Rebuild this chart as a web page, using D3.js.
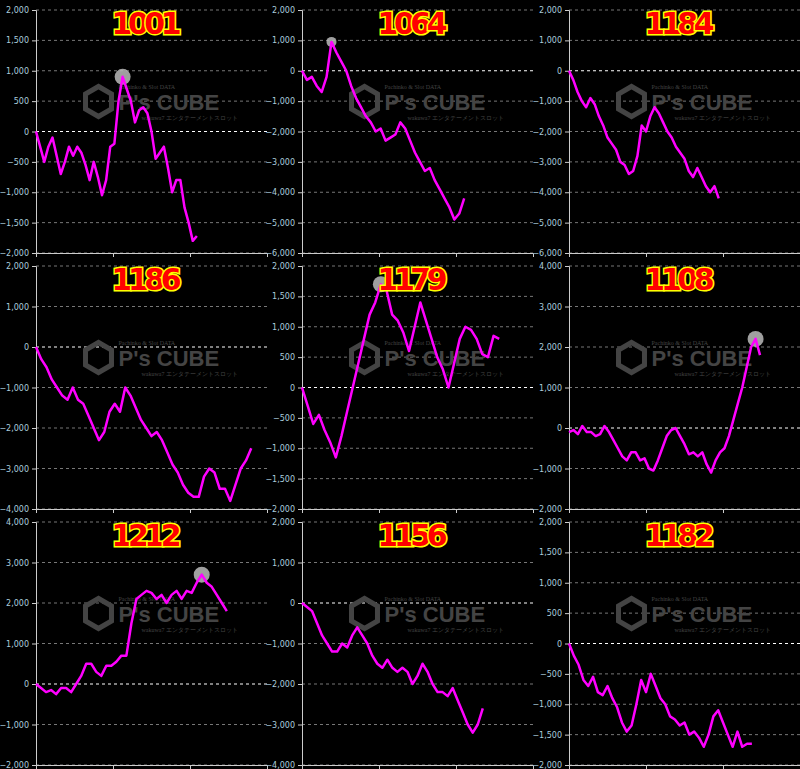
<!DOCTYPE html>
<html><head><meta charset="utf-8">
<script src="https://cdn.jsdelivr.net/npm/d3@7"></script>
<style>body{margin:0;background:#000}svg{display:block}</style>
</head><body><svg width="800" height="769"></svg>
<script>
const W = 800, H = 769;

// machine numbers (panel titles)
const titles = ['1001','1064','1184','1186','1179','1108','1212','1156','1182'];
// y axis ranges [max, min]
const yRanges = [[2000,-2000],[2000,-6000],[2000,-6000],[2000,-4000],[2000,-2000],[4000,-2000],[4000,-2000],[2000,-4000],[2000,-2000]];
const yTicks = [500,1000,1000,1000,500,1000,1000,1000,500];
// length of the x axis in steps, per panel
const xMax = [56,47,54,44,41,52,46,46,48];

const s1001 = [0,-250,-500,-250,-100,-400,-700,-500,-250,-400,-250,-350,-550,-800,-500,-750,-1050,-800,-250,-200,500,900,700,500,150,350,400,300,0,-450,-350,-250,-600,-1000,-800,-800,-1250,-1500,-1800,-1720];
const s1064 = [0,-300,-200,-500,-700,-200,950,600,300,0,-500,-900,-1200,-1500,-1700,-2000,-1900,-2300,-2200,-2100,-1700,-1900,-2300,-2700,-3000,-3300,-3200,-3600,-3900,-4200,-4500,-4900,-4700,-4200];
const s1184 = [0,-300,-700,-1000,-1200,-900,-1100,-1500,-1800,-2200,-2400,-2600,-3000,-3100,-3400,-3300,-2800,-1800,-2000,-1500,-1200,-1400,-1700,-2000,-2200,-2500,-2700,-2900,-3300,-3500,-3200,-3500,-3800,-4000,-3800,-4200];
const s1186 = [0,-300,-500,-800,-1000,-1200,-1300,-1000,-1300,-1400,-1700,-2000,-2300,-2100,-1600,-1400,-1600,-1000,-1200,-1500,-1800,-2000,-2200,-2100,-2300,-2600,-2900,-3100,-3400,-3600,-3700,-3700,-3200,-3000,-3100,-3500,-3500,-3800,-3400,-3000,-2800,-2500];
const s1179 = [0,-300,-600,-450,-700,-900,-1150,-800,-400,0,400,800,1200,1400,1700,1600,1200,1100,900,600,1000,1400,1100,800,500,300,0,400,800,1000,950,800,550,500,850,800];
const s1108 = [-100,-50,-150,50,-100,-100,-200,-150,50,-100,-300,-500,-700,-800,-600,-600,-800,-750,-1000,-1050,-800,-500,-200,-50,0,-200,-400,-650,-600,-700,-600,-900,-1100,-800,-600,-500,-200,200,600,1000,1500,2000,2200,1800];
const s1212 = [0,-100,-200,-150,-250,-100,-100,-200,0,200,500,500,300,200,450,450,550,700,700,1500,2100,2200,2300,2250,2100,2200,2000,2200,2300,2100,2300,2250,2500,2700,2500,2400,2200,2000,1800];
const s1156 = [0,-100,-200,-500,-800,-1000,-1200,-1200,-1000,-1100,-800,-600,-800,-1000,-1300,-1500,-1600,-1400,-1600,-1700,-1600,-1700,-2000,-1800,-1500,-1700,-2000,-2200,-2200,-2300,-2100,-2400,-2700,-3000,-3200,-3000,-2600];
const s1182 = [0,-200,-350,-600,-700,-550,-800,-850,-700,-900,-1050,-1300,-1450,-1350,-1000,-600,-800,-500,-700,-900,-1000,-1200,-1250,-1350,-1300,-1500,-1450,-1550,-1700,-1500,-1200,-1100,-1300,-1500,-1700,-1450,-1700,-1650,-1650];
const series = [s1001,s1064,s1184,s1186,s1179,s1108,s1212,s1156,s1182];

const svg = d3.select('svg');
svg.append('rect').attr('width', W).attr('height', H).attr('fill', '#000');

const colX = [0, 266, 533], rowY = [0, 256, 512];
const fmt = d3.format(',');

series.forEach((data, i) => {
  const ox = colX[i % 3], oy = rowY[Math.floor(i / 3)];
  const left = ox + 36, right = ox + 267, top = oy + 10, bottom = oy + 253;
  const g = svg.append('g');

  const x = d3.scaleLinear().domain([0, xMax[i]]).range([left, right]);
  const y = d3.scaleLinear().domain([yRanges[i][1], yRanges[i][0]]).range([bottom, top]);
  const ticks = d3.range(yRanges[i][1], yRanges[i][0] + 1, yTicks[i]);

  // gridlines
  g.selectAll('line.grid').data(ticks).join('line')
    .attr('x1', left).attr('x2', right)
    .attr('y1', d => y(d)).attr('y2', d => y(d))
    .attr('stroke', d => d === 0 ? '#fff' : '#777')
    .attr('stroke-width', 1)
    .attr('stroke-dasharray', '3,3');

  // y axis
  const ya = g.append('g').attr('transform', `translate(${left},0)`)
    .call(d3.axisLeft(y).tickValues(ticks).tickFormat(fmt).tickSize(4));
  ya.select('.domain').attr('stroke', '#ccc');
  ya.selectAll('line').attr('stroke', '#ccc');
  ya.selectAll('text').attr('fill', '#acd').style('font-family', 'DejaVu Sans, sans-serif').style('font-size', '8px');

  // x axis (no labels)
  const xa = g.append('g').attr('transform', `translate(0,${bottom})`)
    .call(d3.axisBottom(x).tickValues([0, xMax[i] / 3, xMax[i] * 2 / 3]).tickFormat('').tickSize(4));
  xa.select('.domain').attr('stroke', '#ccc');
  xa.selectAll('line').attr('stroke', '#ccc');

  // watermark
  const cx = (left + right) / 2 - 5, cy = (top + bottom) / 2 - 30;
  g.append('path')
    .attr('d', d3.line()(d3.range(6).map(k => [cx - 48 + 15 * Math.cos(Math.PI / 3 * k + Math.PI / 6), cy + 15 * Math.sin(Math.PI / 3 * k + Math.PI / 6)])) + 'Z')
    .attr('fill', 'none').attr('stroke', '#444').attr('stroke-width', 5);
  g.append('text').attr('x', cx - 28).attr('y', cy + 8)
    .attr('fill', '#444').style('font-family', 'Liberation Sans, sans-serif')
    .style('font-weight', 'bold').style('font-size', '22px').text("P's CUBE");
  g.append('text').attr('x', cx - 28).attr('y', cy - 13)
    .attr('fill', '#444').style('font-family', 'Liberation Serif, serif').style('font-size', '6px').text('Pachinko & Slot DATA');
  g.append('text').attr('x', cx - 5).attr('y', cy + 18)
    .attr('fill', '#444').style('font-family', 'Liberation Serif, serif').style('font-size', '6px').text('wakuwa7 エンタテーメントスロット');

  // max marker
  const maxI = d3.maxIndex(data);
  if (data[maxI] > 0) {
    g.append('circle').attr('cx', x(maxI)).attr('cy', y(data[maxI]))
      .attr('r', data[maxI] < 1000 && i === 1 ? 5 : 8).attr('fill', '#bbb').attr('opacity', 0.85);
  }

  // line
  g.append('path').datum(data)
    .attr('d', d3.line().x((d, k) => x(k)).y(d => y(d)))
    .attr('fill', 'none').attr('stroke', '#f0f').attr('stroke-width', 2.5)
    .attr('stroke-linejoin', 'round');

  // title
  g.append('text').attr('x', (left + right) / 2 - 5).attr('y', top + 24)
    .attr('text-anchor', 'middle')
    .style('font-family', 'DejaVu Sans, sans-serif').style('font-weight', 'bold').style('font-size', '30px')
    .attr('fill', '#f00').attr('stroke', '#ff0').attr('stroke-width', 3).attr('paint-order', 'stroke')
    .attr('textLength', 70)
    .text(titles[i]);
});
</script></body></html>
